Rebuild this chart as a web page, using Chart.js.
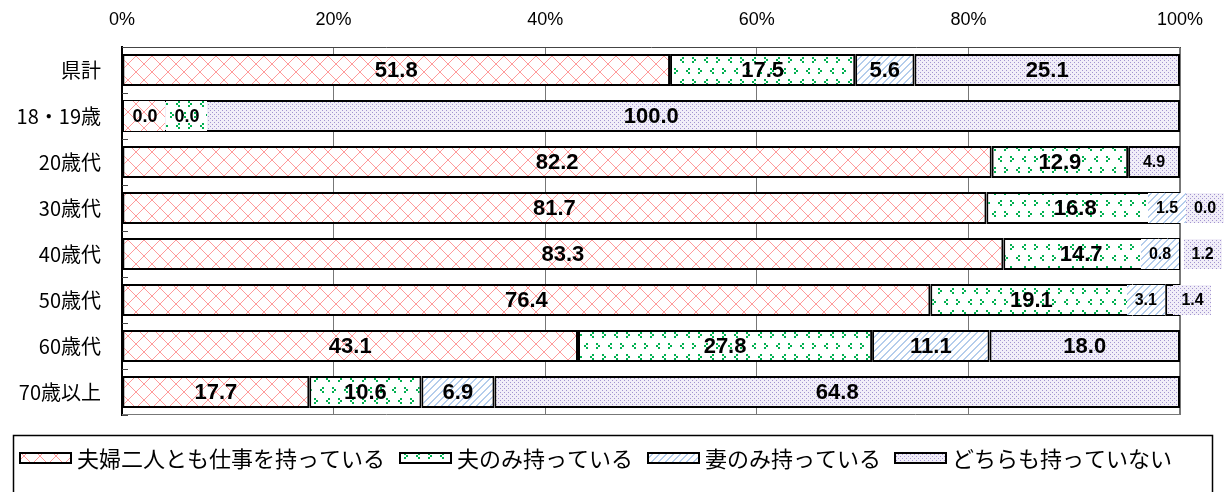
<!DOCTYPE html>
<html><head><meta charset="utf-8">
<script src="https://cdn.jsdelivr.net/npm/chart.js@4.4.1/dist/chart.umd.min.js"></script>
<style>html,body{margin:0;padding:0;background:#fff;}#wrap{width:1225px;height:492px;position:relative;}</style>
</head><body><div id="wrap"><canvas id="c" width="1225" height="492"></canvas></div>
<script>
const categories = ['県計','18・19歳','20歳代','30歳代','40歳代','50歳代','60歳代','70歳以上'];
const seriesNames = ['夫婦二人とも仕事を持っている','夫のみ持っている','妻のみ持っている','どちらも持っていない'];
const bothWork = [51.8, 0.0, 82.2, 81.7, 83.3, 76.4, 43.1, 17.7];
const husbandOnly = [17.5, 0.0, 12.9, 16.8, 14.7, 19.1, 27.8, 10.6];
const wifeOnly = [5.6, null, null, 1.5, 0.8, 3.1, 11.1, 6.9];
const neither = [25.1, 100.0, 4.9, 0.0, 1.2, 1.4, 18.0, 64.8];
const xTicks = [0, 20, 40, 60, 80, 100];

// label tweaks (row,series): horizontal shift, font size, patterned box
const labelTweaks = {
  '1,0': {dx: 23, size: 18, box: true},
  '1,1': {dx: 65, size: 18, box: true},
  '2,3': {dx: 0, size: 16},
  '3,2': {dx: -5, size: 16, box: true},
  '3,3': {dx: 25, size: 16, box: true},
  '4,2': {dx: -3, size: 16, box: true},
  '4,3': {dx: 29, size: 16, box: true},
  '5,2': {dx: -3, size: 16, box: true},
  '5,3': {dx: 20, size: 16, box: true}
};

const LAT = "'Liberation Sans',Arial,sans-serif";
const JP = "'Noto Sans CJK JP','Noto Sans',sans-serif";

function mkPattern(w, h, draw) {
  const cv = document.createElement('canvas');
  cv.width = w; cv.height = h;
  const g = cv.getContext('2d');
  g.fillStyle = '#fff'; g.fillRect(0, 0, w, h);
  draw(g);
  return document.getElementById('c').getContext('2d').createPattern(cv, 'repeat');
}
const pinkPat = mkPattern(16, 16, g => {
  g.fillStyle = '#ff9a9a';
  for (let i = 0; i < 16; i++) {
    g.fillRect(i, i, 1, 1);
    g.fillRect(15 - i, i, 1, 1);
  }
});
function gt(g, x, y) { // ">" mark
  g.fillRect(x, y, 2, 2); g.fillRect(x + 2, y + 2, 2, 2); g.fillRect(x, y + 4, 2, 2);
}
function lt(g, x, y) { // "<" mark
  g.fillRect(x + 2, y, 2, 2); g.fillRect(x, y + 2, 2, 2); g.fillRect(x + 2, y + 4, 2, 2);
}
const greenPat = mkPattern(24, 22, g => {
  g.fillStyle = '#00b050';
  gt(g, 2, 2); lt(g, 14, 2);
  lt(g, 8, 13); gt(g, 20, 13);
});
const bluePat = mkPattern(7, 7, g => {
  g.fillStyle = '#b4cdec';
  for (let i = 0; i < 7; i++) { g.fillRect(6 - i, i, 1, 1); g.fillRect((7 - i) % 7, i, 1, 1); }
});
const purplePat = mkPattern(4, 4, g => {
  g.fillStyle = '#f1eef8'; g.fillRect(0, 0, 4, 4);
  g.fillStyle = '#a294d0';
  g.fillRect(0, 0, 1, 1); g.fillRect(2, 2, 1, 1);
});
const patterns = [pinkPat, greenPat, bluePat, purplePat];

const decorPlugin = {
  id: 'decor',
  beforeDatasetsDraw(chart) {
    const {ctx, chartArea: a} = chart;
    ctx.save();
    ctx.strokeStyle = '#777'; ctx.lineWidth = 1;
    ctx.beginPath();
    ctx.moveTo(a.left, a.bottom - 0.5); ctx.lineTo(a.right, a.bottom - 0.5);
    ctx.moveTo(a.right - 0.5, a.top); ctx.lineTo(a.right - 0.5, a.bottom);
    ctx.stroke();
    ctx.strokeStyle = '#444';
    ctx.beginPath();
    const step = (a.bottom - a.top) / categories.length;
    for (let i = 0; i <= categories.length; i++) {
      const y = Math.round(a.top + i * step) + 0.5;
      ctx.moveTo(a.left, y); ctx.lineTo(a.left + 6, y);
    }
    ctx.stroke();
    ctx.restore();
  },
  afterDatasetsDraw(chart) {
    const {ctx} = chart;
    ctx.save();
    ctx.textAlign = 'center'; ctx.textBaseline = 'middle';
    chart.data.datasets.forEach((ds, si) => {
      const meta = chart.getDatasetMeta(si);
      meta.data.forEach((bar, ri) => {
        const v = ds.data[ri];
        if (v === null || v === undefined) return;
        const t = labelTweaks[ri + ',' + si] || {};
        const x = (bar.x + bar.base) / 2 + (t.dx || 0);
        const y = bar.y;
        const size = t.size || 22;
        const txt = v.toFixed(1);
        ctx.font = 'bold ' + size + 'px ' + LAT;
        if (t.box) {
          const w = ctx.measureText(txt).width + 16;
          ctx.fillStyle = patterns[si];
          ctx.fillRect(Math.round(x - w / 2), Math.round(y - 15), Math.round(w), 30);
        }
        ctx.fillStyle = '#000';
        ctx.fillText(txt, x, y + 1);
      });
    });
    ctx.restore();
  },
  afterDraw(chart) {
    const {ctx} = chart;
    ctx.save();
    ctx.strokeStyle = '#000'; ctx.lineWidth = 1.5;
    ctx.strokeRect(13.5, 435.5, 1199, 70);
    const swX = [20, 400, 648, 895];
    ctx.font = '22px ' + JP;
    ctx.textBaseline = 'middle'; ctx.textAlign = 'left';
    seriesNames.forEach((name, i) => {
      ctx.fillStyle = patterns[i];
      ctx.fillRect(swX[i], 453, 51, 10);
      ctx.lineWidth = 2; ctx.strokeStyle = '#000';
      ctx.strokeRect(swX[i], 453, 51, 10);
      ctx.fillStyle = '#000';
      ctx.fillText(name, swX[i] + 57, 459);
    });
    ctx.restore();
  }
};

const dsData = [bothWork, husbandOnly, wifeOnly, neither];
new Chart(document.getElementById('c'), {
  type: 'bar',
  data: {
    labels: categories,
    datasets: dsData.map((d, i) => ({
      label: seriesNames[i],
      data: d,
      backgroundColor: patterns[i],
      borderColor: '#000',
      borderWidth: 2,
      borderSkipped: false,
      categoryPercentage: 0.70,
      barPercentage: 1.0
    }))
  },
  options: {
    indexAxis: 'y',
    responsive: false,
    animation: false,
    layout: {padding: {left: 0, right: 45, top: 0, bottom: 77}},
    plugins: {legend: {display: false}, tooltip: {enabled: false}},
    scales: {
      x: {
        position: 'top', stacked: true, min: 0, max: 100,
        afterBuildTicks(s) { s.ticks = xTicks.map(v => ({value: v})); },
        afterFit(s) { s.height = 47; },
        ticks: {
          padding: 16, color: '#000',
          font: {family: LAT, size: 18},
          callback: v => v + '%'
        },
        grid: {color: '#777', lineWidth: 1, drawTicks: false},
        border: {color: '#444', width: 1}
      },
      y: {
        stacked: true,
        afterFit(s) { s.width = 122; },
        ticks: {padding: 21, color: '#000', font: {family: JP, size: 20}},
        grid: {display: false, drawTicks: false},
        border: {color: '#000', width: 2}
      }
    }
  },
  plugins: [decorPlugin]
});
</script>
</body></html>
